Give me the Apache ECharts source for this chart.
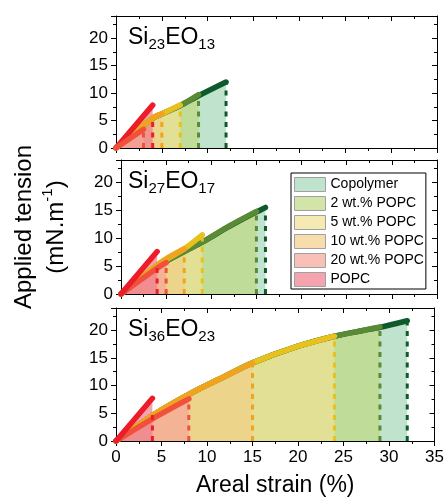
<!DOCTYPE html>
<html>
<head>
<meta charset="utf-8">
<script src="https://cdn.jsdelivr.net/npm/echarts@6/dist/echarts.min.js"></script>
<style>
  html, body { margin: 0; padding: 0; background: #fff; }
  #chart { width: 447px; height: 500px; }
</style>
</head>
<body>
<div id="chart"></div>
<script>
// Applied tension vs areal strain, three copolymer panels

const groups = ['Copolymer', '2 wt.% POPC', '5 wt.% POPC', '10 wt.% POPC', '20 wt.% POPC', 'POPC'];
const panelSubs = [['23', '13'], ['27', '17'], ['36', '23']];
const xTicks = [0, 35, 5];
const yTicks = [0, 24, 5];

// Si23EO13
const si23Copolymer = [[0, 0], [4, 5.4], [5, 6.2], [7, 7.7], [9, 9.5], [12, 12.0]];
const si23Popc2 = [[0, 0], [4, 5.4], [5, 6.2], [7, 7.7], [9, 9.7]];
const si23Popc5 = [[0, 0], [4, 5.4], [5, 6.2], [7, 7.8]];
const si23Popc10 = [[0, 0], [4, 5.5], [5, 6.2]];
const si23Popc20 = [[0, 0], [3, 3.4]];
const si23Popc = [[0, 0], [4, 7.8]];
const si23DashTop = [11.8, 9.6, 7.7, 6.1, 3.3, 5.6];

// Si27EO17
const si27Copolymer = [[0, 0], [4, 4.9], [7, 7.6], [9, 9.3], [12, 12.1], [15, 14.7], [16, 15.5]];
const si27Popc2 = [[0, 0], [4, 4.9], [7, 7.6], [9, 9.3], [12, 12.2], [15, 14.8]];
const si27Popc5 = [[0, 0], [4, 5.1], [7, 8.1], [9, 10.6]];
const si27Popc10 = [[0, 0], [4, 5.2], [5, 6.3], [7, 8.1]];
const si27Popc20 = [[0, 0], [4, 4.6], [5, 5.6]];
const si27Popc = [[0, 0], [4, 7.6]];
const si27DashTop = [15.3, 14.6, 10.4, 8.0, 5.5, 5.0];

// Si36EO23
const si36Copolymer = [[0, 0], [4, 4.6], [8, 8.4], [12, 11.7], [15, 14.1], [20, 17.1], [24, 18.9], [27, 19.9], [29, 20.5], [32, 21.7]];
const si36Popc2 = [[0, 0], [4, 4.6], [8, 8.4], [12, 11.7], [15, 14.1], [20, 17.1], [24, 18.9], [27, 19.9], [29, 20.6]];
const si36Popc5 = [[0, 0], [4, 4.6], [8, 8.4], [12, 11.7], [15, 14.1], [20, 17.1], [24, 18.9]];
const si36Popc10 = [[0, 0], [4, 4.6], [8, 8.4], [12, 11.7], [15, 14.1]];
const si36Popc20 = [[0, 0], [4, 4.0], [8, 7.6]];
const si36Popc = [[0, 0], [4, 7.7]];
const si36DashTop = [21.3, 20.3, 18.5, 13.8, 7.2, 5.3];

const panels = [
    { curves: [si23Copolymer, si23Popc2, si23Popc5, si23Popc10, si23Popc20, si23Popc], dashTop: si23DashTop },
    { curves: [si27Copolymer, si27Popc2, si27Popc5, si27Popc10, si27Popc20, si27Popc], dashTop: si27DashTop },
    { curves: [si36Copolymer, si36Popc2, si36Popc5, si36Popc10, si36Popc20, si36Popc], dashTop: si36DashTop },
];

const lineColors = ['#0e5a2c', '#5a8a34', '#e8c11c', '#f0a31e', '#f0503c', '#ec1c28'];
const swatchColors = ['#bfe3cd', '#d3e4a8', '#f4eab2', '#f6ddab', '#f8c0b7', '#f4a3af'];
const fillAlpha = 0.7;

const FONT = 'Liberation Sans, Arial, sans-serif';
const gridTops = [16, 160, 308];
const gridHeights = [132, 134, 133];

// colour that gives the swatch colour when laid over white at fillAlpha
function baseFill(hex) {
    const c = [1, 3, 5].map(i => parseInt(hex.slice(i, i + 2), 16));
    const b = c.map(v => Math.max(0, Math.round(255 - (255 - v) / fillAlpha)));
    return `rgb(${b[0]},${b[1]},${b[2]})`;
}

const chart = echarts.init(document.getElementById('chart'));

const grids = gridTops.map((t, i) => ({ left: 116, right: 10, top: t, height: gridHeights[i] }));

const xAxes = [];
const yAxes = [];
gridTops.forEach((t, p) => {
    const common = {
        gridIndex: p,
        type: 'value',
        splitLine: { show: false },
        axisLine: { onZero: false, lineStyle: { color: '#000', width: 1 } },
        minorTick: { show: true, splitNumber: 2, length: 3, lineStyle: { color: '#000' } },
    };
    xAxes.push({
        ...common,
        min: xTicks[0], max: xTicks[1], interval: xTicks[2],
        position: 'bottom',
        axisTick: { length: 5, lineStyle: { color: '#000' } },
        axisLabel: { show: p === 2, color: '#000', fontSize: 17, fontFamily: FONT, margin: 8 },
        name: p === 2 ? 'Areal strain (%)' : '',
        nameLocation: 'middle',
        nameGap: 33,
        nameTextStyle: { fontSize: 23, color: '#000', fontFamily: FONT },
    });
    xAxes.push({
        ...common,
        min: xTicks[0], max: xTicks[1], interval: xTicks[2],
        position: 'top',
        axisTick: { inside: true, length: 5, lineStyle: { color: '#000' } },
        axisLabel: { show: false },
    });
    yAxes.push({
        ...common,
        min: yTicks[0], max: yTicks[1], interval: yTicks[2],
        position: 'left',
        axisTick: { length: 5, lineStyle: { color: '#000' } },
        axisLabel: { color: '#000', fontSize: 17, fontFamily: FONT, margin: 8, showMaxLabel: false },
        name: p === 1 ? 'Applied tension\n(mN.m{sup|-1})' : '',
        nameLocation: 'middle',
        nameRotate: 90,
        nameGap: 49,
        nameTextStyle: {
            fontSize: 24, lineHeight: 32, color: '#000', fontFamily: FONT,
            rich: { sup: { fontSize: 15, lineHeight: 22, verticalAlign: 'top', color: '#000', fontFamily: FONT } }
        },
    });
    yAxes.push({
        ...common,
        min: yTicks[0], max: yTicks[1], interval: yTicks[2],
        position: 'right',
        axisTick: { inside: true, length: 5, lineStyle: { color: '#000' } },
        axisLabel: { show: false },
    });
});

// empty bar series only feed the legend swatches
const series = groups.map((g, i) => ({
    type: 'bar',
    name: g,
    data: [],
    xAxisIndex: 0,
    yAxisIndex: 0,
    itemStyle: { color: swatchColors[i] },
}));

panels.forEach((panel, p) => {
    // longest curve first so shorter ones sit on top
    const order = groups.map((_, i) => i).sort((a, b) => {
        const ca = panel.curves[a], cb = panel.curves[b];
        return cb[cb.length - 1][0] - ca[ca.length - 1][0];
    });
    order.forEach(g => {
        const curve = panel.curves[g];
        const xEnd = curve[curve.length - 1][0];
        series.push({
            type: 'line',
            name: groups[g] + ' #' + p,
            xAxisIndex: p * 2,
            yAxisIndex: p * 2,
            data: curve,
            smooth: 0.3,
            symbol: 'none',
            silent: true,
            lineStyle: { color: lineColors[g], width: 5.5, cap: 'round', join: 'round' },
            areaStyle: { color: baseFill(swatchColors[g]), opacity: fillAlpha },
        });
        series.push({
            type: 'line',
            name: groups[g] + ' end #' + p,
            xAxisIndex: p * 2,
            yAxisIndex: p * 2,
            data: [[xEnd, 0], [xEnd, panel.dashTop[g]]],
            symbol: 'none',
            silent: true,
            lineStyle: { color: lineColors[g], width: 3, type: [5, 5.5] },
        });
    });
});

const option = {
    animation: false,
    backgroundColor: '#fff',
    title: panelSubs.map((s, i) => ({
        text: `{a|Si}{s|${s[0]}}{a|EO}{s|${s[1]}}`,
        left: 128,
        top: gridTops[i] + 8,
        padding: 0,
        textStyle: {
            fontSize: 23,
            fontWeight: 'normal',
            fontFamily: FONT,
            color: '#000',
            rich: {
                a: { fontSize: 23, fontWeight: 'normal', lineHeight: 28, fontFamily: FONT, color: '#000' },
                s: { fontSize: 15, fontWeight: 'normal', lineHeight: 8, verticalAlign: 'bottom', fontFamily: FONT, color: '#000' },
            }
        }
    })),
    legend: {
        data: groups,
        orient: 'vertical',
        left: 291,
        top: 173,
        icon: 'rect',
        itemWidth: 31,
        itemHeight: 14,
        itemGap: 4,
        padding: [4, 2, 2, 3],
        borderColor: '#000',
        borderWidth: 1,
        borderRadius: 0,
        backgroundColor: '#fff',
        selectedMode: false,
        itemStyle: { borderColor: '#a0a0a0', borderWidth: 1 },
        textStyle: { fontSize: 14, color: '#000', fontFamily: FONT, lineHeight: 14 },
    },
    grid: grids,
    xAxis: xAxes,
    yAxis: yAxes,
    series: series,
};

chart.setOption(option);
</script>
</body>
</html>
